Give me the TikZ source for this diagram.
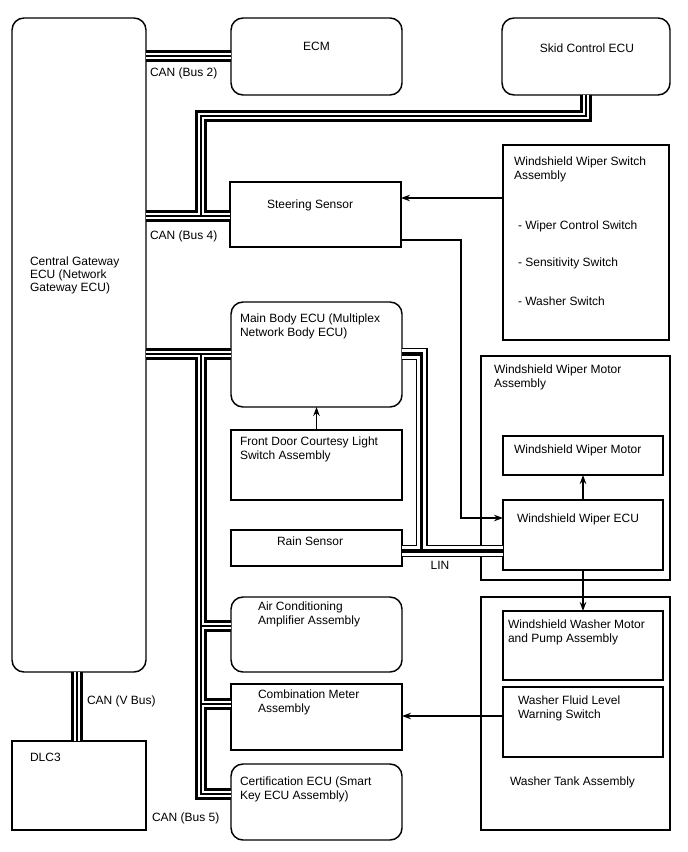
\documentclass[tikz,border=0pt]{standalone}
\usepackage{fontspec}
\setmainfont{Liberation Sans}
\usetikzlibrary{arrows.meta,calc}
\tikzset{
  x=0.75pt, y=-0.75pt,
  bx/.style={draw, line width=1.1pt, inner sep=0pt, outer sep=0pt, anchor=north west},
  rbx/.style={bx, rounded corners=9pt},
  lbl/.style={inner sep=0pt, outer sep=0pt, anchor=north west, align=left, font=\fontsize{9}{10.5}\selectfont},
  arr/.style={line width=0.9pt, -{Stealth[length=6.75pt,width=4.9pt]}},
  canA/.style={line width=8.4pt, black},
  canB/.style={line width=3.9pt, white},
  canC/.style={line width=0.9pt, black},
  linA/.style={line width=9pt, black},
  linB/.style={line width=6.9pt, white},
  linC/.style={line width=2.4pt, black},
}
\newcommand\mkbox[6]{\node[#1, minimum width={(#5-#3)*0.75pt}, minimum height={(#6-#4)*0.75pt}] (#2) at (#3,#4) {};}
\newcommand\canpaths[1]{%
  \draw[#1] (gw.east |- 0,56) -- (ecm.west |- 0,56);
  \draw[#1] (gw.east |- 0,216) -- (ss.west |- 0,216);
  \draw[#1] (201,216) -- (201,116) -- (586,116) -- (586,0 |- skid.south);
  \draw[#1] (gw.east |- 0,354) -- (mb.west |- 0,354);
  \draw[#1] (201,354) -- (201,794) -- (cert.west |- 0,794);
  \draw[#1] (201,626) -- (ac.west |- 0,626);
  \draw[#1] (201,704) -- (cm.west |- 0,704);
  \draw[#1] (77,0 |- gw.south) -- (77,0 |- dlc.north);
}
\newcommand\linpaths[1]{%
  \draw[#1] (wecu.west |- 0,551) -- (rs.east |- 0,551);
  \draw[#1] (mb.east |- 0,354) -- (421.5,354) -- (421.5,551);
}
\begin{document}
\begin{tikzpicture}
\useasboundingbox[fill=white] (0,0) rectangle (688,852);
% boxes
\mkbox{rbx}{gw}{12}{18}{146}{672}
\mkbox{rbx}{ecm}{231}{18}{402}{95}
\mkbox{rbx}{skid}{502}{18}{670}{95}
\mkbox{bx}{ss}{230}{182}{401}{247}
\mkbox{bx}{wsw}{503}{145}{669}{340}
\mkbox{rbx}{mb}{231}{302}{402}{407}
\mkbox{bx}{fd}{231}{430}{402}{500}
\mkbox{bx}{rs}{231}{530}{402}{566}
\mkbox{rbx}{ac}{231}{597}{402}{672}
\mkbox{bx}{cm}{231}{684}{402}{750}
\mkbox{rbx}{cert}{231}{764}{402}{840}
\mkbox{bx}{dlc}{12}{741}{146}{830}
\mkbox{bx}{wma}{481}{356}{670}{580}
\mkbox{bx}{wm}{503}{436}{663}{475}
\mkbox{bx}{wecu}{503}{500}{663}{570}
\mkbox{bx}{wta}{481}{597}{670}{830}
\mkbox{bx}{wmp}{503}{611}{663}{680}
\mkbox{bx}{wfl}{503}{687}{663}{757}
% buses
\canpaths{canA}
\canpaths{canB}
\canpaths{canC}
\linpaths{linA}
\linpaths{linB}
\linpaths{linC}
% arrows
\draw[arr] (wsw.west |- 0,198) -- (ss.east |- 0,198);
\draw[arr] (ss.east |- 0,240) -- (461,240) -- (461,518) -- (wecu.west |- 0,518);
\draw[arr] (fd.north) -- (mb.south);
\draw[arr] (wecu.north) -- (wm.south);
\draw[arr] (wecu.south) -- (wmp.north);
\draw[arr] (wfl.west |- 0,716) -- (cm.east |- 0,716);
% labels
\node[lbl, anchor=center] (tecm) at (316.5,46) {ECM};
\node[lbl, anchor=center] (tskid) at (587,48) {Skid Control ECU};
\node[lbl] (tb2) at (150,67.5) {CAN (Bus 2)};
\node[lbl] (tb4) at (150,230.5) {CAN (Bus 4)};
\node[lbl] (tvb) at (87,695.5) {CAN (V Bus)};
\node[lbl] (tb5) at (152,812.5) {CAN (Bus 5)};
\node[lbl, anchor=center] (tlin) at (440,565) {LIN};
\node[lbl] (tss) at (267,199.5) {Steering Sensor};
\node[lbl] (twsw) at (514,156.5) {Windshield Wiper Switch\\Assembly};
\node[lbl] (tw1) at (518,220.5) {- Wiper Control Switch};
\node[lbl] (tw2) at (518,257.5) {- Sensitivity Switch};
\node[lbl] (tw3) at (518,296.5) {- Washer Switch};
\node[lbl, font=\fontsize{9}{9.9}\selectfont] (tgw) at (30,256.5) {Central Gateway\\ECU (Network\\Gateway ECU)};
\node[lbl] (tmb) at (240,313.5) {Main Body ECU (Multiplex\\Network Body ECU)};
\node[lbl] (tfd) at (240,436.5) {Front Door Courtesy Light\\Switch Assembly};
\node[lbl] (trs) at (277,536.5) {Rain Sensor};
\node[lbl] (tac) at (258,601.5) {Air Conditioning\\Amplifier Assembly};
\node[lbl] (tcm) at (258,689.5) {Combination Meter\\Assembly};
\node[lbl] (tcert) at (240,776.5) {Certification ECU (Smart\\Key ECU Assembly)};
\node[lbl] (tdlc) at (30,753.5) {DLC3};
\node[lbl] (twma) at (494,364.5) {Windshield Wiper Motor\\Assembly};
\node[lbl] (twm) at (514,444.5) {Windshield Wiper Motor};
\node[lbl] (twecu) at (517,513.5) {Windshield Wiper ECU};
\node[lbl] (twmp) at (508,619.5) {Windshield Washer Motor\\and Pump Assembly};
\node[lbl] (twfl) at (518,695.5) {Washer Fluid Level\\Warning Switch};
\node[lbl] (twta) at (510,776.5) {Washer Tank Assembly};
\end{tikzpicture}
\end{document}
